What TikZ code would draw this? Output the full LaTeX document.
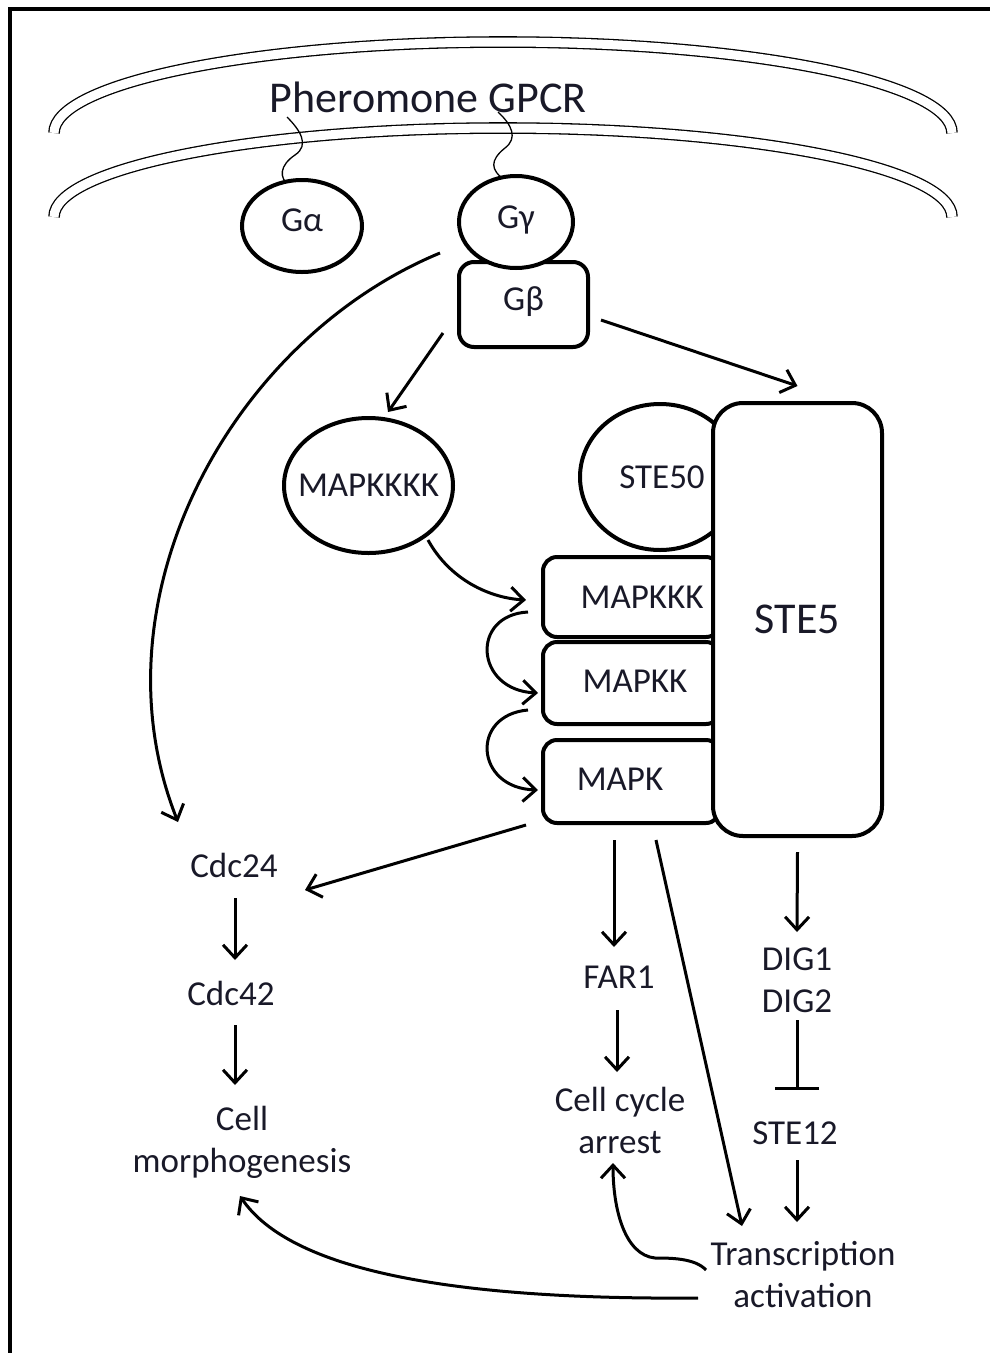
\documentclass[tikz,border=0pt]{standalone}
\usepackage{fontspec}
\setmainfont{Carlito}
\definecolor{txtdark}{RGB}{25, 25, 40}
\usetikzlibrary{arrows.meta, shapes.geometric, calc, positioning}
\tikzset{
	prot/.style={ellipse, draw, line width=4pt, fill=white, inner sep=0pt, text=txtdark,
		font=\fontsize{35}{42}\selectfont},
	kinase/.style={rectangle, rounded corners=14pt, draw, line width=4pt, fill=white,
		inner sep=0pt, text=txtdark, font=\fontsize{35}{42}\selectfont},
	lbl/.style={inner sep=0pt, align=center, text=txtdark, font=\fontsize{35}{42}\selectfont},
	act/.style={line width=3pt, -{Straight Barb[length=13pt,width=24pt]}},
	inh/.style={line width=3pt, -{Bar[width=44pt]}},
	memb/.style={double, double distance=9pt, line width=1.3pt},
	tail/.style={line width=1.3pt},
}

\begin{document}
\begin{tikzpicture}[x=1pt, y=-1pt]
	\useasboundingbox (0,0) rectangle (989,1353);
	\draw[line width=4pt] (10,9) rectangle (1010,1400);

	% membrane
	\draw[memb] (54,133) arc[start angle=180, end angle=360, x radius=449, y radius=91];
	\draw[memb] (54,217) arc[start angle=180, end angle=360, x radius=449, y radius=89];
	\node[lbl, font=\fontsize{44}{50}\selectfont] (gpcr) at (428,97) {Pheromone GPCR};

	\draw[tail] (287,117) .. controls (300,130) and (310,145) .. (295,155)
		.. controls (280,165) and (278,178) .. (290,186) -- (296,192);
	\draw[tail] (498,112) .. controls (512,125) and (518,138) .. (505,148)
		.. controls (490,160) and (490,170) .. (505,180);

	% G proteins
	\node[prot, minimum width=120pt, minimum height=92pt,
		label={[lbl, yshift=6pt]center:Gα}] (galpha) at (302,226) {};
	\node[kinase, rounded corners=15pt, minimum width=129pt, minimum height=85pt,
		label={[lbl, yshift=2.5pt]center:Gβ}] (gbeta) at (523.5,304.5) {};
	\node[prot, minimum width=114pt, minimum height=92pt,
		label={[lbl, yshift=2pt]center:Gγ}] (ggamma) at (516,222) {};

	% scaffold
	\node[prot, minimum width=169pt, minimum height=135pt,
		label={[lbl]center:MAPKKKK}] (mapkkkk) at (368.5,485.5) {};
	\node[prot, minimum width=160pt, minimum height=146pt,
		label={[lbl, xshift=2pt]center:STE50}] (ste50) at (660,477) {};
	\node[kinase, minimum width=177pt, minimum height=80pt,
		label={[lbl, xshift=10.5pt]center:MAPKKK}] (mapkkk) at (631.5,597) {};
	\node[kinase, minimum width=177pt, minimum height=82pt,
		label={[lbl, xshift=3.5pt, yshift=2pt]center:MAPKK}] (mapkk) at (631.5,683) {};
	\node[kinase, minimum width=177pt, minimum height=83pt,
		label={[lbl, xshift=-11.5pt, yshift=2pt]center:MAPK}] (mapk) at (631.5,781.5) {};
	\node[kinase, rounded corners=30pt, minimum width=169pt, minimum height=433pt,
		font=\fontsize{44}{50}\selectfont] (ste5) at (797.5,619.5) {STE5};

	% outputs
	\node[lbl] (cdc24) at (234,865) {Cdc24};
	\node[lbl] (cdc42) at (231,993) {Cdc42};
	\node[lbl] (morph) at (242,1142) {Cell\\morphogenesis};
	\node[lbl] (far1) at (619,977) {FAR1};
	\node[lbl] (arrest) at (620,1120) {Cell cycle\\arrest};
	\node[lbl] (dig) at (797,980) {DIG1\\DIG2};
	\node[lbl] (ste12) at (795,1133) {STE12};
	\node[lbl] (transc) at (803,1275) {Transcription\\activation};

	\draw[act] ($(ggamma)+(-76,31)$) .. controls (230,340) and (90,600) .. ($(cdc24)+(-56,-43)$);
	\draw[act] ($(gbeta)+(-80.5,28.5)$) -- ($(mapkkkk)+(19.5,-73.5)$);
	\draw[act] ($(gbeta)+(77.5,15.5)$) -- ($(ste5.north)+(0,-15)$);
	\draw[act] ($(mapkkkk)+(59.5,54.5)$) .. controls (450,580) and (490,598) .. ($(mapkkk.west)+(-15,3)$);
	\draw[act] ($(mapkkk.west)+(-13,15)$) .. controls (470,615) and (475,690) .. ($(mapkk.west)+(-3,10)$);
	\draw[act] ($(mapkk.west)+(-13,27)$) .. controls (470,715) and (475,788) .. ($(mapk.west)+(-3,8.5)$);
	\draw[act] ($(mapk.south west)+(-15,0)$) -- ($(cdc24)+(71,25)$);
	\draw[act] ($(mapk.south)+(-17.5,15)$) -- ($(far1)+(-5,-30)$);
	\draw[act] ($(mapk.south)+(24.5,15)$) -- ($(transc)+(-61,-49)$);
	\draw[act] ($(ste5.south)+(0,14)$) -- ($(dig)+(0,-48)$);
	\draw[inh] ($(dig)+(0,40)$) -- ($(ste12)+(2,-43)$);
	\draw[act] ($(ste12)+(2,27)$) -- ($(transc)+(-6,-53)$);
	\draw[act] ($(far1)+(-2,33)$) -- ($(arrest)+(-3,-48)$);
	\draw[act] ($(cdc24)+(1,33)$) -- ($(cdc42)+(4,-33)$);
	\draw[act] ($(cdc42)+(4,32)$) -- ($(morph)+(-7,-57)$);
	\draw[act] ($(transc)+(-97,-5)$) .. controls (695,1258) and (670,1258) .. (655,1258)
		.. controls (625,1255) and (613,1210) .. ($(arrest)+(-7,43)$);
	\draw[act] ($(transc)+(-105,23)$) .. controls (450,1300) and (290,1270) .. ($(morph)+(-2,54)$);
\end{tikzpicture}
\end{document}
